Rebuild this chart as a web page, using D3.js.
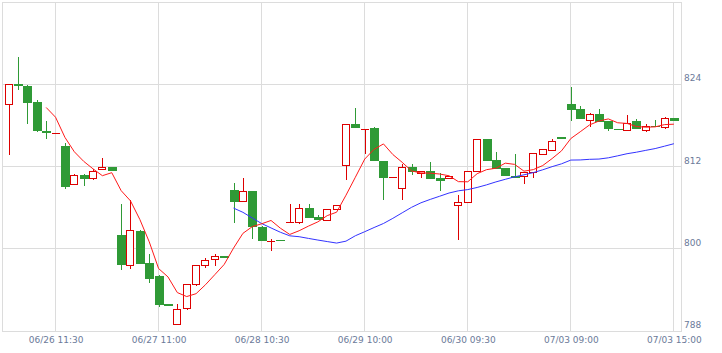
<!DOCTYPE html>
<html>
<head>
<meta charset="utf-8">
<script src="https://cdn.jsdelivr.net/npm/d3@7"></script>
<style>
  html, body { margin: 0; padding: 0; background: #fff; }
  svg { display: block; }
  text { font-family: "DejaVu Sans", Verdana, sans-serif; font-size: 9px; fill: #6b7a99; }
</style>
</head>
<body>
<svg id="chart" width="722" height="353"></svg>
<script>
// ---- data ----
const opens  = [821.1,824.1,823.8,821.4,817.2,816.9,815.0,809.4,810.8,810.4,811.6,811.9,
                802.0,797.7,802.6,797.9,796.0,791.9,789.05,791.4,794.85,797.7,798.5,799.0,
                808.6,806.95,808.4,803.15,801.1,801.3,803.9,803.9,805.9,804.65,804.2,805.8,
                812.3,818.2,817.5,817.6,812.8,810.55,808.95,811.9,811.1,811.35,810.3,810.35,
                806.45,806.9,811.3,816.1,812.9,811.75,810.6,810.6,811.15,813.9,814.5,816.3,
                821.15,820.35,818.8,819.7,818.6,817.55,817.3,818.6,817.35,818.0,817.8,819.1];
const highs  = [824.0,828.0,823.9,821.7,818.7,816.9,815.5,810.9,810.9,811.6,813.3,811.9,
                806.6,807.1,802.8,799.3,796.2,791.9,792.0,794.9,797.7,798.6,799.3,799.0,
                809.6,810.4,808.4,803.3,801.5,801.3,806.6,806.6,806.5,805.0,805.75,806.4,
                818.3,820.5,817.5,817.8,812.8,810.55,812.4,812.45,811.4,812.7,811.05,810.65,
                807.8,811.3,816.1,816.1,814.1,811.75,813.8,811.15,814.0,814.65,816.1,816.3,
                823.7,820.85,819.9,820.4,818.6,817.55,819.55,818.9,818.2,818.8,819.3,819.1];
const lows   = [813.7,823.2,818.2,817.0,816.0,816.9,808.8,809.4,809.2,810.0,811.6,811.3,
                796.9,797.0,797.8,795.0,791.5,791.6,789.05,791.1,794.55,797.2,797.5,798.7,
                803.8,806.9,801.5,801.1,799.75,801.2,803.7,803.6,804.5,804.2,804.2,805.8,
                810.1,817.6,813.8,812.85,807.2,810.55,807.2,810.75,810.3,810.2,808.4,810.35,
                801.25,806.9,811.3,812.85,811.7,810.6,810.4,809.45,810.4,813.9,814.5,816.0,
                818.65,818.9,817.8,818.5,817.25,817.4,817.3,817.45,817.0,817.8,817.5,818.7];
const closes = [824.0,823.8,821.3,817.2,816.9,816.9,809.1,810.8,810.2,811.4,811.9,811.3,
                797.7,802.7,797.8,795.6,791.8,791.6,791.25,794.9,797.7,798.3,799.0,798.7,
                806.85,808.45,803.2,801.1,801.1,801.2,803.9,805.9,804.5,804.2,805.75,806.4,
                818.3,817.6,817.5,812.85,810.35,810.55,811.9,811.2,811.4,810.2,809.9,810.65,
                806.9,811.3,816.1,812.85,811.7,810.6,810.4,811.15,814.0,814.65,815.7,816.0,
                820.2,818.9,819.7,818.5,817.55,817.4,818.4,817.45,818.0,817.8,819.05,818.7];
// red average line
const maRed = [null,null,null,null,820.64,819.22,816.28,814.18,812.78,811.68,810.68,811.12,
               808.5,807.0,804.28,801.02,797.12,795.9,793.61,793.03,793.45,794.75,796.23,797.72,
               800.11,802.26,803.24,803.66,804.14,803.01,802.1,802.64,803.32,803.94,804.85,805.35,
               807.83,810.45,813.11,814.53,815.32,813.77,812.63,811.37,811.08,811.05,810.92,810.67,
               809.81,809.79,810.97,811.56,811.77,812.51,812.33,811.34,811.57,812.16,813.18,814.3,
               816.11,817.09,818.1,818.66,818.97,818.41,818.31,817.86,817.76,817.81,818.14,818.2];
// blue average line
const maBlue = [null,null,null,null,null,null,null,null,null,null,null,null,
                null,null,null,null,null,null,null,null,null,null,null,null,
                805.95,805.33,804.5,803.69,803.05,802.42,801.9,801.77,801.52,801.28,801.06,800.84,
                801.12,801.91,802.5,803.11,803.7,804.45,805.26,806.06,806.72,807.22,807.68,808.15,
                808.47,808.65,808.96,809.34,809.77,810.15,810.52,810.81,811.13,811.54,812.0,812.41,
                812.96,812.98,813.07,813.11,813.29,813.58,813.89,814.11,814.38,814.64,814.99,815.35];
const xTickIndex  = [5, 16, 27, 38, 49, 60, 71];
const xTickLabels = ["06/26 11:30","06/27 11:00","06/28 10:30","06/29 10:00","06/30 09:30","07/03 09:00","07/03 15:00"];
const yTicks = [788, 800, 812, 824];

// ---- drawing ----
const svg = d3.select("#chart");
const UP = "#dd0000", DOWN = "#2f9a36", GRID = "#dcdcdc";
const n = closes.length;
const x = d3.scaleLinear().domain([0, n - 1]).range([8.7, 673.9]);
const y = d3.scaleLinear().domain([788, 836]).range([331, 2.3]);
const crisp = v => Math.floor(v) + 0.5;

const grid = svg.append("g");
grid.selectAll("line.h").data(yTicks.slice(1)).join("line")
  .attr("x1", 2.5).attr("x2", 681.5)
  .attr("y1", d => crisp(y(d))).attr("y2", d => crisp(y(d)))
  .attr("stroke", GRID);
grid.selectAll("line.v").data(xTickIndex).join("line")
  .attr("class", "v")
  .attr("y1", 2.5).attr("y2", 331.5)
  .attr("x1", d => crisp(x(d))).attr("x2", d => crisp(x(d)))
  .attr("stroke", GRID);
svg.append("rect").attr("x", 2.5).attr("y", 2.5).attr("width", 679).attr("height", 329)
  .attr("fill", "none").attr("stroke", GRID);

// y axis on the right
const yAxis = d3.axisRight(y).tickValues(yTicks).tickSize(0).tickPadding(0).tickFormat(d3.format("d"));
const gy = svg.append("g").attr("transform", "translate(684,0)").call(yAxis);
gy.select(".domain").remove();
gy.selectAll("text").attr("dy", -3.5).attr("fill", "#6b7a99")
  .style("font-family", "'DejaVu Sans', Verdana, sans-serif").style("font-size", "9px");

// x axis
const xAxis = d3.axisBottom(x).tickValues(xTickIndex).tickSize(0)
  .tickFormat(d => xTickLabels[xTickIndex.indexOf(d)]);
const gx = svg.append("g").attr("transform", "translate(0,331)").call(xAxis);
gx.select(".domain").remove();
gx.selectAll("text").attr("y", 12.3).attr("dy", 0).attr("fill", "#6b7a99")
  .style("font-family", "'DejaVu Sans', Verdana, sans-serif").style("font-size", "9px");

// candles
const idx = d3.range(n);
const cg = svg.append("g");
idx.forEach(i => {
  const o = opens[i], c = closes[i], h = highs[i], l = lows[i];
  const up = c >= o;
  const col = up ? UP : DOWN;
  const x0 = Math.round(x(i) - 4);
  const wx = x0 + 4.5;
  cg.append("line").attr("x1", wx).attr("x2", wx)
    .attr("y1", Math.round(y(h))).attr("y2", Math.round(y(l)))
    .attr("stroke", col).attr("stroke-width", 1);
  const yt = Math.round(y(Math.max(o, c)));
  const yb = Math.round(y(Math.min(o, c)));
  if (up) {
    if (yb - yt < 1) {
      cg.append("line").attr("x1", x0).attr("x2", x0 + 8)
        .attr("y1", yt + 0.5).attr("y2", yt + 0.5).attr("stroke", col);
    } else {
      cg.append("rect").attr("x", x0 + 0.5).attr("y", yt + 0.5)
        .attr("width", 7).attr("height", yb - yt)
        .attr("fill", "#fff").attr("stroke", col).attr("stroke-width", 1);
    }
  } else {
    cg.append("rect").attr("x", x0).attr("y", yt)
      .attr("width", 9).attr("height", Math.max(yb - yt, 1))
      .attr("fill", col);
  }
});

// average lines
const line = d3.line().defined(d => d != null).x((d, i) => x(i)).y(d => y(d));
svg.append("path").datum(maBlue).attr("d", line)
  .attr("fill", "none").attr("stroke", "#3333ff").attr("stroke-width", 1);
svg.append("path").datum(maRed).attr("d", line)
  .attr("fill", "none").attr("stroke", "#ff1a1a").attr("stroke-width", 1);
</script>
</body>
</html>
